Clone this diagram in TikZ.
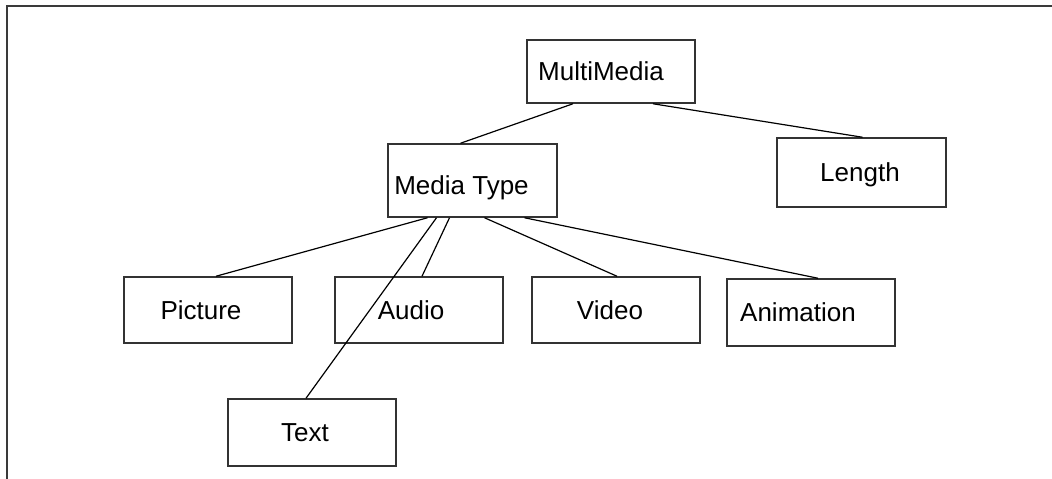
\documentclass[tikz,border=0pt]{standalone}
\usepackage{fontspec}
\setmainfont{Liberation Sans}
\definecolor{BoxGray}{HTML}{333333}
\definecolor{FrameGray}{HTML}{3A3A3A}

\begin{document}
\begin{tikzpicture}[x=1pt,y=-1pt,
  box/.style={draw=BoxGray,line width=1.5pt,inner sep=2pt,minimum width=168pt,minimum height=66pt,
    font=\fontsize{26}{30}\selectfont,text height=18.7pt,text depth=0pt},
  textshift/.style={execute at end node={\hspace*{#1}}},
  link/.style={line width=1.2pt,black}]
\useasboundingbox (0,0) rectangle (1052,479);
\draw[line width=2pt,FrameGray] (7,479) -- (7,6) -- (1052,6);
\node[box,textshift=20pt,minimum height=63pt] (multi) at (611,71.5) {MultiMedia};
\node[box,textshift=3pt,minimum width=169pt,minimum height=69pt] (length) at (861.5,172.5) {Length};
\node[box,textshift=22pt,minimum width=169pt,minimum height=73pt,text height=28.7pt] (mtype) at (472.5,180.5) {Media Type};
\node[box,textshift=14pt] (picture) at (208,310) {Picture};
\node[box,textshift=16pt] (audio) at (419,310) {Audio};
\node[box,textshift=12pt] (video) at (616,310) {Video};
\node[box,textshift=26pt,minimum height=67pt] (anim) at (811,312.5) {Animation};
\node[box,textshift=14pt,minimum height=67pt] (text) at (312,432.5) {Text};
\draw[link] ([xshift=-38pt]multi.south) -- ([xshift=-12pt]mtype.north);
\draw[link] ([xshift=42pt]multi.south) -- ([xshift=1pt]length.north);
\draw[link] ([xshift=-45pt]mtype.south) -- ([xshift=8pt]picture.north);
\draw[link] ([xshift=-36pt]mtype.south) -- ([xshift=-6pt]text.north);
\draw[link] ([xshift=-23pt]mtype.south) -- ([xshift=3pt]audio.north);
\draw[link] ([xshift=12pt]mtype.south) -- ([xshift=1pt]video.north);
\draw[link] ([xshift=52pt]mtype.south) -- ([xshift=7pt]anim.north);
\end{tikzpicture}
\end{document}
